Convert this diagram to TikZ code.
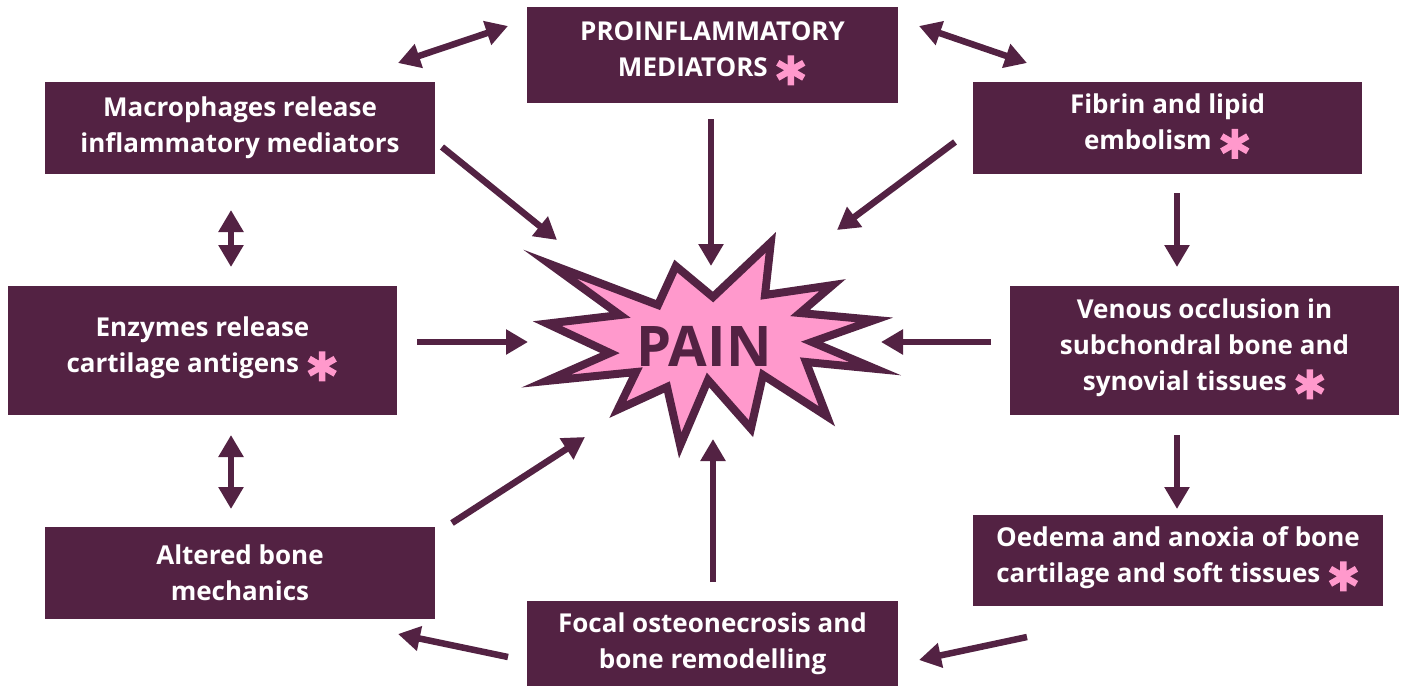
\documentclass[tikz,border=0pt]{standalone}
\usepackage{fontspec}
\setmainfont{Open Sans}
\usetikzlibrary{arrows.meta}
\definecolor{plum}{HTML}{532243}
\definecolor{pinkc}{HTML}{FF99CC}
\newcommand\pinkast{\tikz[baseline=-6pt]{\draw[pinkc,line width=6.5pt] (0pt,-15pt)--(0pt,15pt) (-13pt,-7.5pt)--(13pt,7.5pt) (-13pt,7.5pt)--(13pt,-7.5pt);}}
\tikzset{
  box/.style={fill=plum, text=white, font=\bfseries\fontsize{26}{36}\selectfont, align=center, inner sep=0pt},
  arr/.style={draw=plum, line width=6.5pt, -{Triangle[width=24pt,length=22pt]}},
  darr/.style={draw=plum, line width=6.5pt, {Triangle[width=24pt,length=22pt]}-{Triangle[width=24pt,length=22pt]}},
  burst/.style={fill=pinkc, draw=plum, line width=8pt, line join=miter}
}
\begin{document}
\begin{tikzpicture}[x=1pt,y=-1pt]
\useasboundingbox (0,0) rectangle (1407,686);
% boxes
\node[box, minimum width=371pt, minimum height=96pt] (pro) at (712.5,55) {PROINFLAMMATORY\\MEDIATORS\ \pinkast};
\node[box, minimum width=390pt, minimum height=92pt] (mac) at (240,128) {Macrophages release\\inflammatory mediators};
\node[box, minimum width=389pt, minimum height=92pt] (fib) at (1167.5,128) {Fibrin and lipid\\embolism\ \pinkast};
\node[box, minimum width=389pt, minimum height=129pt] (enz) at (202.5,350.5) {Enzymes release\\cartilage antigens\ \pinkast};
\node[box, minimum width=389pt, minimum height=129pt] (ven) at (1204.5,350.5) {Venous occlusion in\\subchondral bone and\\synovial tissues\ \pinkast};
\node[box, minimum width=390pt, minimum height=92pt] (alt) at (240,573) {Altered bone\\mechanics};
\node[box, minimum width=410pt, minimum height=91pt] (oed) at (1178,560.5) {Oedema and anoxia of bone\\cartilage and soft tissues\ \pinkast};
\node[box, minimum width=371pt, minimum height=85pt] (foc) at (712.5,643.5) {Focal osteonecrosis and\\bone remodelling};
% burst
\draw[burst] (549.8,264) -- (658,305) -- (675.8,266.1) -- (713,297) -- (770.8,242.4) -- (765,295)
  -- (832.6,285.1) -- (800,313) -- (874.6,319.9) -- (812,342) -- (875.4,368.8) -- (806,362)
  -- (826.9,416.3) -- (763,375) -- (750.9,428.6) -- (708,380) -- (680.2,445.4) -- (667,387)
  -- (617.8,409.6) -- (636,372) -- (546.2,381) -- (610,353) -- (547.2,323.6) -- (620,315) -- cycle;
\node[text=plum, font=\bfseries\fontsize{56}{60}\selectfont, inner sep=0pt] (pain) at (704,346) {PAIN};
% arrow end points
\coordinate (a1) at (398,63);   \coordinate (a2) at (508,26);
\coordinate (b1) at (919,26);   \coordinate (b2) at (1027,63);
\coordinate (c1) at (442,147);  \coordinate (c2) at (557,240);
\coordinate (d1) at (711,119);  \coordinate (d2) at (711,266);
\coordinate (e1) at (955,142);  \coordinate (e2) at (837,230);
\coordinate (f1) at (1177,193); \coordinate (f2) at (1177,267);
\coordinate (g1) at (231,210);  \coordinate (g2) at (231,267);
\coordinate (h1) at (417,342);  \coordinate (h2) at (528,342);
\coordinate (i1) at (991,342);  \coordinate (i2) at (881,342);
\coordinate (j1) at (231,435);  \coordinate (j2) at (231,509);
\coordinate (k1) at (1177,435); \coordinate (k2) at (1177,509);
\coordinate (l1) at (452,523);  \coordinate (l2) at (585,437);
\coordinate (m1) at (713,582);  \coordinate (m2) at (713,439);
\coordinate (n1) at (1027,637); \coordinate (n2) at (919,660);
\coordinate (o1) at (508,657);  \coordinate (o2) at (398,634);
% arrows
\draw[darr] (a1) -- (a2);
\draw[darr] (b1) -- (b2);
\draw[arr] (c1) -- (c2);
\draw[arr] (d1) -- (d2);
\draw[arr] (e1) -- (e2);
\draw[arr] (f1) -- (f2);
\draw[darr] (g1) -- (g2);
\draw[arr] (h1) -- (h2);
\draw[arr] (i1) -- (i2);
\draw[darr] (j1) -- (j2);
\draw[arr] (k1) -- (k2);
\draw[arr] (l1) -- (l2);
\draw[arr] (m1) -- (m2);
\draw[arr] (n1) -- (n2);
\draw[arr] (o1) -- (o2);
\end{tikzpicture}
\end{document}
